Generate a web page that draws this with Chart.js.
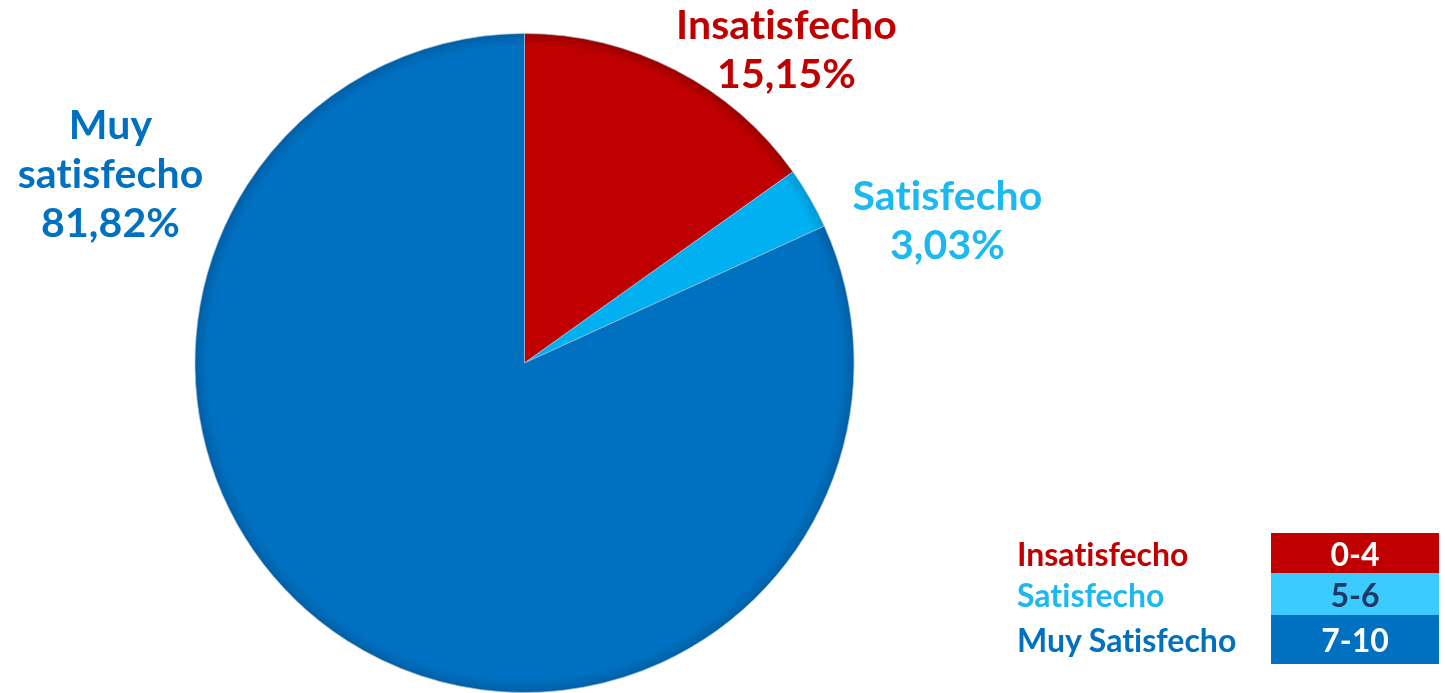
<!DOCTYPE html>
<html lang="es">
  <head>
    <meta charset="UTF-8" />
    <title>Satisfacción</title>
    <script src="https://cdn.jsdelivr.net/npm/chart.js"></script>
    <style>
      html, body {
        margin: 0;
        padding: 0;
        background: #ffffff;
        font-family: Lato, "Noto Sans", sans-serif;
      }
      .wrap {
        position: relative;
        width: 1445px;
        height: 693px;
      }
      canvas {
        display: block;
      }
      .legend {
        position: absolute;
        left: 1010px;
        top: 533px;
        border-collapse: collapse;
        font-weight: bold;
        font-size: 32px;
        font-variant-ligatures: none;
      }
      .legend td {
        padding: 0;
      }
      .legend td.name {
        width: 254px;
        padding-left: 7px;
      }
      .legend td.range {
        width: 168px;
        text-align: center;
      }
    </style>
  </head>
  <body>
    <div class="wrap">
      <canvas id="pie" width="1445" height="693"></canvas>
      <table class="legend" id="legend"></table>
    </div>

    <script>
      // categories and values
      const categories = ["Insatisfecho", "Satisfecho", "Muy satisfecho"];
      const shares = [15.15, 3.03, 81.82];
      const sliceLabels = [["Insatisfecho", "15,15%"], ["Satisfecho", "3,03%"], ["Muy", "satisfecho", "81,82%"]];
      const sliceColors = ["#C00000", "#00B0F0", "#0070C0"];
      const edgeColors = ["#990000", "#0098D4", "#005FA6"];
      const textColors = ["#C00000", "#1CB8F0", "#0070C0"];
      // label block centre, offset from the pie centre
      const labelOffsets = [[262, -313], [423, -142], [-414, -188]];

      // legend table
      const legendNames = ["Insatisfecho", "Satisfecho", "Muy Satisfecho"];
      const legendRanges = ["0-4", "5-6", "7-10"];
      const legendFill = ["#C00000", "#3CCBFF", "#0070C0"];
      const legendRangeText = ["#ffffff", "#1F3864", "#ffffff"];
      const legendNameColors = ["#C00000", "#1CB8F0", "#0070C0"];
      const legendRowHeights = [40, 42, 49];

      const legend = document.getElementById("legend");
      legendNames.forEach((name, i) => {
        const tr = document.createElement("tr");
        tr.style.height = legendRowHeights[i] + "px";
        tr.innerHTML =
          '<td class="name" style="color:' + legendNameColors[i] + '">' + name + "</td>" +
          '<td class="range" style="background:' + legendFill[i] + ";color:" + legendRangeText[i] + '">' + legendRanges[i] + "</td>";
        legend.appendChild(tr);
      });

      // outside labels drawn after the pie
      const sliceLabelPlugin = {
        id: "sliceLabels",
        afterDatasetsDraw(chart) {
          const ctx = chart.ctx;
          const arc = chart.getDatasetMeta(0).data[0];
          ctx.save();
          ctx.font = "bold 41px Lato";
          ctx.letterSpacing = "0.1px";
          ctx.textAlign = "center";
          ctx.textBaseline = "middle";
          sliceLabels.forEach((lines, i) => {
            const cx = arc.x + labelOffsets[i][0];
            const cy = arc.y + labelOffsets[i][1];
            const lh = 49;
            const top = cy - ((lines.length - 1) * lh) / 2;
            ctx.fillStyle = textColors[i];
            lines.forEach((t, j) => ctx.fillText(t, cx, top + j * lh));
          });
          ctx.restore();
        }
      };

      function sliceFill(context) {
        const i = context.dataIndex;
        const area = context.chart.chartArea;
        if (!area) return sliceColors[i];
        const cx = (area.left + area.right) / 2;
        const cy = (area.top + area.bottom) / 2;
        const r = Math.min(area.right - area.left, area.bottom - area.top) / 2;
        const g = context.chart.ctx.createRadialGradient(cx, cy, 0, cx, cy, r);
        g.addColorStop(0, sliceColors[i]);
        g.addColorStop(0.96, sliceColors[i]);
        g.addColorStop(1, edgeColors[i]);
        return g;
      }

      new Chart(document.getElementById("pie"), {
        type: "pie",
        data: {
          labels: categories,
          datasets: [
            {
              data: shares,
              backgroundColor: sliceFill,
              borderColor: "rgba(170,190,210,0.7)",
              borderWidth: 1
            }
          ]
        },
        options: {
          responsive: false,
          animation: false,
          layout: { padding: { left: 193, right: 589, top: 33, bottom: 0 } },
          plugins: {
            legend: { display: false },
            tooltip: { enabled: false }
          }
        },
        plugins: [sliceLabelPlugin]
      });
    </script>
  </body>
</html>
